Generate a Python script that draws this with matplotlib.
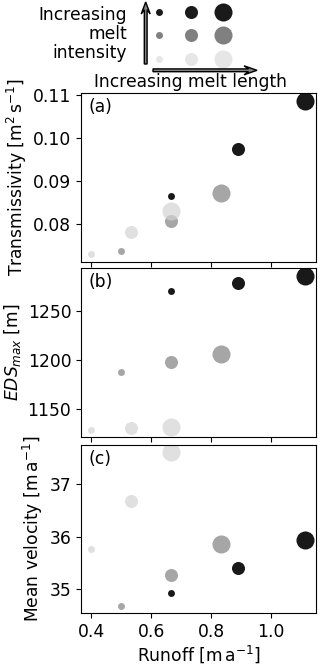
import matplotlib.pyplot as plt
import numpy as np

plt.rcParams['font.size'] = 12.3

# melt scenarios: 3 intensities (rows) x 3 melt lengths (cols)
intensity = ['high', 'high', 'high', 'mid', 'mid', 'mid', 'low', 'low', 'low']
length = [1, 2, 3, 1, 2, 3, 1, 2, 3]
runoff = [0.667, 0.889, 1.111, 0.500, 0.667, 0.833, 0.400, 0.533, 0.667]
transmissivity = [0.0866, 0.0975, 0.1087, 0.0737, 0.0807, 0.0873, 0.0732, 0.0783, 0.0832]
eds_max = [1269.8, 1278.0, 1285.4, 1187.4, 1197.6, 1206.0, 1128.3, 1130.3, 1131.6]
velocity = [34.94, 35.40, 35.95, 34.68, 35.28, 35.87, 35.77, 36.68, 37.61]

sizes = {1: 25, 2: 88, 3: 169}
colors = {'high': 'k', 'mid': '0.5', 'low': 'lightgrey'}
alphas = {'high': 0.9, 'mid': 0.7, 'low': 0.7}
key_colors = {'high': '#1a1a1a', 'mid': '#808080', 'low': '#e6e6e6'}

fig = plt.figure(figsize=(3.2, 6.66), dpi=100)

# key drawn in pixel coordinates
kax = fig.add_axes([0, 0, 1, 1])
kax.set_xlim(0, 320)
kax.set_ylim(666, 0)
kax.axis('off')
key_x = {1: 159.3, 2: 191.0, 3: 222.7}
key_y = {'high': 12.3, 'mid': 35.0, 'low': 59.0}
for i, l in zip(intensity, length):
    kax.scatter(key_x[l], key_y[i], s=sizes[l], color=key_colors[i], lw=0)
kax.arrow(145.7, 64, 0, -50, width=2.8, head_width=9, head_length=12, overhang=0.35,
          fc='0.5', ec='k', lw=1, length_includes_head=False)
kax.arrow(153, 70.3, 91, 0, width=2.8, head_width=9, head_length=13, overhang=0.35,
          fc='0.5', ec='k', lw=1, length_includes_head=False)
kax.text(127, 34, 'Increasing\nmelt\nintensity', ha='right', va='center',
         multialignment='right', linespacing=1.05)
kax.text(191, 82, 'Increasing melt length', ha='center', va='center')

panels = [
    ([81/320, 1 - 262/666, 235/320, 169/666], transmissivity,
     'Transmissivity [m$^2\\,$s$^{-1}$]', (0.07125, 0.1105), [0.08, 0.09, 0.10, 0.11], '(a)'),
    ([81/320, 1 - 437/666, 235/320, 169/666], eds_max,
     '$EDS_{max}$ [m]', (1121, 1293.6), [1150, 1200, 1250], '(b)'),
    ([81/320, 1 - 613/666, 235/320, 168/666], velocity,
     'Mean velocity [m$\\,$a$^{-1}$]', (34.55, 37.75), [35, 36, 37], '(c)'),
]

axes = []
for rect, vals, ylabel, ylim, yticks, tag in panels:
    ax = fig.add_axes(rect)
    for i, l, x, y in zip(intensity, length, runoff, vals):
        ax.scatter(x, y, s=sizes[l], color=colors[i], alpha=alphas[i], lw=0)
    ax.set_xlim(0.366, 1.149)
    ax.set_ylim(*ylim)
    ax.set_yticks(yticks)
    ax.set_xticks([0.4, 0.6, 0.8, 1.0])
    ax.set_ylabel(ylabel, labelpad=3)
    ax.text(0.03, 0.97, tag, transform=ax.transAxes, ha='left', va='top')
    axes.append(ax)

for ax in axes[:2]:
    ax.tick_params(labelbottom=False)
axes[2].set_xlabel('Runoff [m$\\,$a$^{-1}$]', labelpad=2)

fig.savefig('out.png', dpi=100)
